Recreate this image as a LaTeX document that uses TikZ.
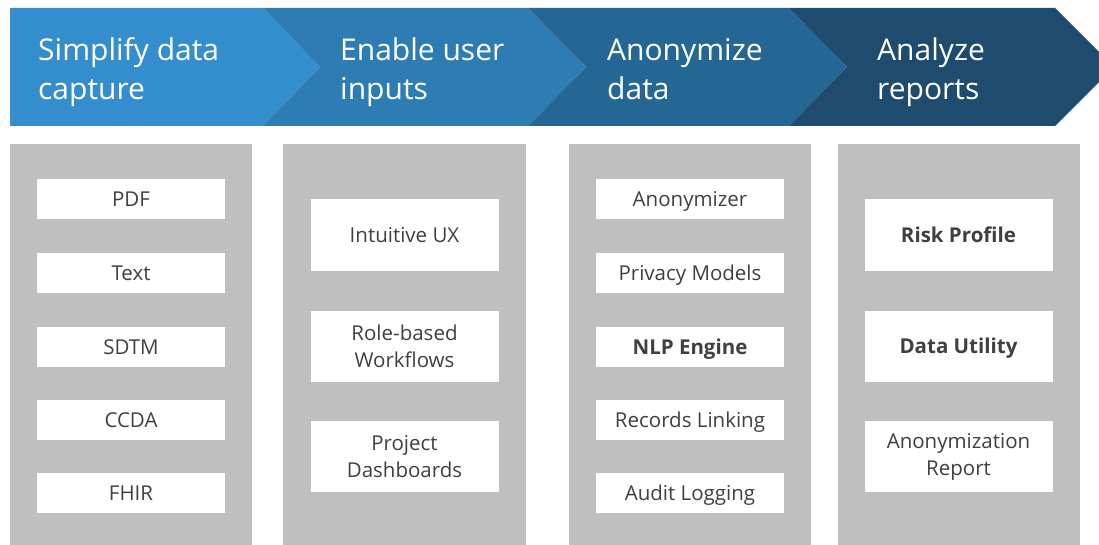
\documentclass[tikz,border=0pt]{standalone}
\usepackage{fontspec}
\setmainfont{Open Sans}
\definecolor{cA}{RGB}{52,142,206}
\definecolor{cB}{RGB}{45,124,180}
\definecolor{cC}{RGB}{37,103,148}
\definecolor{cD}{RGB}{30,75,110}
\definecolor{panelgray}{RGB}{191,191,191}
\definecolor{itemtext}{RGB}{64,64,64}
\begin{document}
\begin{tikzpicture}[x=1pt,y=-1pt,
  head/.style={text=white, font=\fontsize{30}{39}\selectfont, align=left, anchor=north west, inner sep=0pt},
  panel/.style={fill=panelgray, draw=none},
  item/.style={fill=white, draw=none, minimum width=188pt, minimum height=40pt, inner sep=0pt, text=itemtext, font=\fontsize{20.5}{27}\selectfont, align=center},
  oneline/.style={item, text height=19pt, text depth=4.4pt},
  itemtall/.style={item, minimum height=71pt},
  bolditem/.style={font=\fontsize{20.5}{27}\selectfont\bfseries},
]
\useasboundingbox (0,0) rectangle (1099,545);
\clip (0,0) rectangle (1099,545);
% chevrons
\fill[cA] (10,8) -- (263,8) -- (320,67) -- (263,126) -- (10,126) -- cycle;
\fill[cB] (263,8) -- (528,8) -- (586,67) -- (528,126) -- (263,126) -- (320,67) -- cycle;
\fill[cC] (528,8) -- (789,8) -- (847,67) -- (789,126) -- (528,126) -- (586,67) -- cycle;
\fill[cD] (789,8) -- (1055,8) -- (1114,67) -- (1055,126) -- (789,126) -- (847,67) -- cycle;
\node[head] (h1) at (38,32.7) {\strut Simplify data\\\strut capture};
\node[head] (h2) at (340,32.7) {\strut Enable user\\\strut inputs};
\node[head] (h3) at (607,32.7) {\strut Anonymize\\\strut data};
\node[head] (h4) at (877,32.7) {\strut Analyze\\\strut reports};
% panels
\fill[panel] (10,144) rectangle (252,545);
\fill[panel] (283,144) rectangle (526,545);
\fill[panel] (569,144) rectangle (811,545);
\fill[panel] (838,144) rectangle (1080,545);
% column 1
\node[oneline] (pdf) at (131,199) {PDF};
\node[oneline] (txt) at (131,273) {Text};
\node[oneline] (sdtm) at (131,347) {SDTM};
\node[oneline] (ccda) at (131,420) {CCDA};
\node[oneline] (fhir) at (131,493) {FHIR};
% column 2
\node[itemtall,text height=19pt, text depth=4.4pt] (ux) at (404.5,235) {Intuitive UX};
\node[itemtall] (role) at (404.5,346.5) {Role-based\\Workflows};
\node[itemtall] (proj) at (404.5,456.5) {Project\\Dashboards};
% column 3
\node[oneline] (anon) at (690,199) {Anonymizer};
\node[oneline] (priv) at (690,273) {Privacy Models};
\node[oneline,bolditem] (nlp) at (690,347) {NLP Engine};
\node[oneline] (rec) at (690,420) {Records Linking};
\node[oneline] (audit) at (690,493) {Audit Logging};
% column 4
\node[itemtall,bolditem,text height=19pt, text depth=4.4pt] (risk) at (958.5,235) {Risk Profile};
\node[itemtall,bolditem,text height=19pt, text depth=4.4pt] (util) at (958.5,346.5) {Data Utility};
\node[itemtall] (arep) at (958.5,456.5) {Anonymization\\Report};
\end{tikzpicture}
\end{document}
